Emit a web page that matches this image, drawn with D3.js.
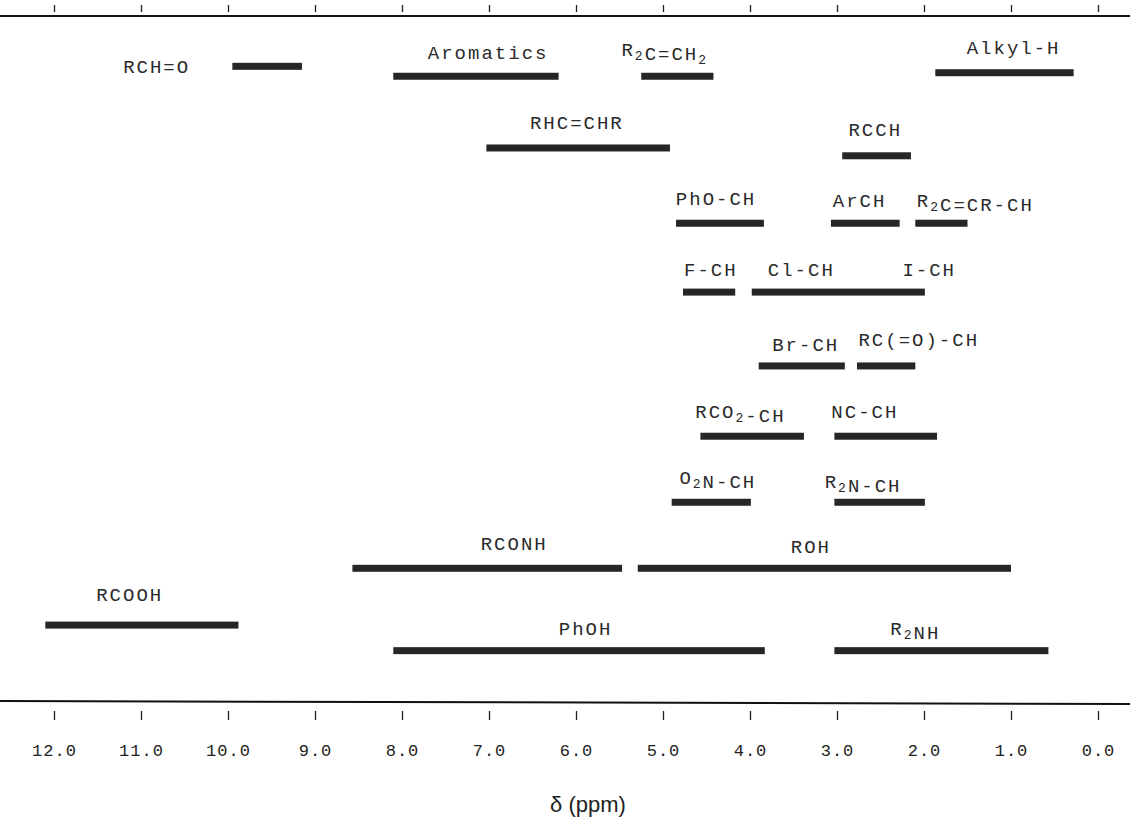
<!DOCTYPE html>
<html>
<head>
  <meta charset="utf-8">
  <title>NMR shifts</title>
  <script src="https://cdn.jsdelivr.net/npm/d3@7"></script>
  <style>
    body { margin: 0; background: #fff; }
    svg { display: block; }
  </style>
</head>
<body>
  <script>
    // bars: group name, start ppm, end ppm, row level
    const barNames = ['RCH=O', 'Aromatics', 'R2C=CH2', 'Alkyl-H', 'RHC=CHR', 'RCCH',
      'PhO-CH', 'ArCH', 'R2C=CR-CH', 'F-CH', 'Cl-CH / I-CH', 'Br-CH', 'RC(=O)-CH',
      'RCO2-CH', 'NC-CH', 'O2N-CH', 'R2N-CH', 'RCONH', 'ROH', 'RCOOH', 'PhOH', 'R2NH'];
    const barFrom = [9.95, 8.1, 5.25, 1.87, 7.03, 2.94, 4.85, 3.07, 2.1, 4.77, 3.98, 3.9, 2.77,
      4.57, 3.03, 4.9, 3.03, 8.57, 5.29, 12.1, 8.1, 3.03];
    const barTo = [9.15, 6.2, 4.42, 0.28, 4.92, 2.15, 3.84, 2.28, 1.5, 4.17, 1.99, 2.91, 2.1,
      3.38, 1.85, 3.99, 1.99, 5.47, 1.0, 9.88, 3.83, 0.57];
    const barLevel = [-0.08, 0.06, 0.06, 0.01, 1.07, 1.18, 2.13, 2.13, 2.13, 3.1, 3.1, 4.14, 4.14,
      5.13, 5.13, 6.06, 6.06, 6.99, 6.99, 7.79, 8.15, 8.15];

    // labels: text (_ marks a subscript digit), ppm of centre, row level of baseline
    const labelText = ['RCH=O', 'Aromatics', 'R_2C=CH_2', 'Alkyl-H', 'RHC=CHR', 'RCCH',
      'PhO-CH', 'ArCH', 'R_2C=CR-CH', 'F-CH', 'Cl-CH', 'I-CH', 'Br-CH', 'RC(=O)-CH',
      'RCO_2-CH', 'NC-CH', 'O_2N-CH', 'R_2N-CH', 'RCONH', 'ROH', 'RCOOH', 'PhOH', 'R_2NH'];
    const labelPpm = [10.82, 7.01, 4.98, 0.97, 5.99, 2.56, 4.39, 2.74, 1.41, 4.45, 3.41, 1.94,
      3.36, 2.06, 4.11, 2.68, 4.37, 2.7, 6.71, 3.3, 11.13, 5.89, 2.1];
    const labelLevel = [0.01, -0.18, -0.23, -0.25, 0.8, 0.9, 1.88, 1.9, 1.9, 2.88, 2.88, 2.88,
      3.93, 3.86, 4.87, 4.88, 5.8, 5.86, 6.73, 6.77, 7.45, 7.93, 7.93];

    const ppmTicks = [12, 11, 10, 9, 8, 7, 6, 5, 4, 3, 2, 1, 0];

    const width = 1130, height = 829;

    const svg = d3.select('body').append('svg')
      .attr('width', width)
      .attr('height', height);

    const x = d3.scaleLinear().domain([12, 0]).range([54, 1098]);
    const y = d3.scaleLinear().domain([0, 1]).range([72, 143]);

    // top rule + ticks
    svg.append('line')
      .attr('x1', 0).attr('x2', width)
      .attr('y1', 16).attr('y2', 16)
      .attr('stroke', '#111').attr('stroke-width', 2);

    const topAxis = svg.append('g')
      .attr('transform', 'translate(0,12)')
      .call(d3.axisTop(x).tickValues(ppmTicks).tickSize(7).tickFormat(''));
    topAxis.select('.domain').remove();
    topAxis.selectAll('line').attr('stroke', '#222').attr('stroke-width', 1.3);

    // bottom rule + ticks
    svg.append('line')
      .attr('x1', 0).attr('x2', width)
      .attr('y1', 701).attr('y2', 704)
      .attr('stroke', '#111').attr('stroke-width', 2);

    const bottomAxis = svg.append('g')
      .attr('transform', 'translate(0,711)')
      .call(d3.axisBottom(x).tickValues(ppmTicks).tickSize(9).tickPadding(24)
        .tickFormat(d3.format('.1f')));
    bottomAxis.select('.domain').remove();
    bottomAxis.selectAll('line').attr('stroke', '#222').attr('stroke-width', 1.3);
    bottomAxis.selectAll('text')
      .attr('fill', '#222')
      .style('font-family', '"Liberation Mono", monospace')
      .style('font-size', '17px')
      .style('letter-spacing', '1px');

    svg.append('text')
      .attr('x', 588).attr('y', 812)
      .attr('text-anchor', 'middle')
      .attr('fill', '#222')
      .style('font-family', '"Liberation Sans", Arial, sans-serif')
      .style('font-size', '22px')
      .text('δ (ppm)');

    // bars
    svg.append('g').selectAll('rect')
      .data(barNames)
      .join('rect')
      .attr('x', (d, i) => x(barFrom[i]))
      .attr('width', (d, i) => x(barTo[i]) - x(barFrom[i]))
      .attr('y', (d, i) => y(barLevel[i]) - 3.5)
      .attr('height', 7)
      .attr('fill', '#262626');

    // labels
    const labels = svg.append('g').selectAll('text')
      .data(labelText)
      .join('text')
      .attr('x', (d, i) => x(labelPpm[i]))
      .attr('y', (d, i) => y(labelLevel[i]))
      .attr('text-anchor', 'middle')
      .attr('fill', '#2a2a2a')
      .style('font-family', '"Liberation Mono", monospace')
      .style('font-size', '19px')
      .style('letter-spacing', '2px');

    labels.each(function (d) {
      const t = d3.select(this);
      d.split(/(_\d)/).filter(s => s.length).forEach(part => {
        if (part[0] === '_') {
          t.append('tspan').attr('dy', 4).style('font-size', '13px').text(part.slice(1));
          t.append('tspan').attr('dy', -4).text('');
        } else {
          t.append('tspan').text(part);
        }
      });
    });
  </script>
</body>
</html>
